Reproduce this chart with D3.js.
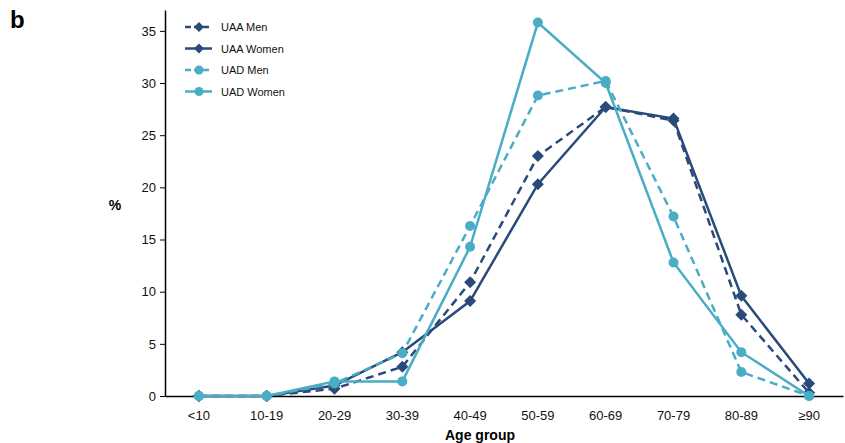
<!DOCTYPE html>
<html>
<head>
<meta charset="utf-8">
<script src="https://cdn.jsdelivr.net/npm/d3@7"></script>
<style>
body { margin: 0; background: #fff; }
text { font-family: "Liberation Sans", Arial, sans-serif; }
</style>
</head>
<body>
<svg id="mainSvg" width="845" height="443"></svg>
<script>
var ageGroups = ["<10", "10-19", "20-29", "30-39", "40-49", "50-59", "60-69", "70-79", "80-89", "\u226590"];
var uaaMen = [0, 0, 0.7, 2.8, 10.9, 23.0, 27.7, 26.4, 7.8, 0.3];
var uaaWomen = [0, 0, 1.0, 4.2, 9.1, 20.3, 27.7, 26.6, 9.6, 1.2];
var uadMen = [0, 0, 1.2, 4.1, 16.3, 28.8, 30.2, 17.2, 2.3, 0];
var uadWomen = [0, 0, 1.4, 1.4, 14.3, 35.8, 30.0, 12.8, 4.2, 0];
var yTicks = [0, 5, 10, 15, 20, 25, 30, 35];

var dark = "#2a4a7a", light = "#4aadc6";
var series = [
	{name: "UAA Men", values: uaaMen, col: dark, dash: "8,5", marker: "diamond"},
	{name: "UAA Women", values: uaaWomen, col: dark, dash: null, marker: "diamond"},
	{name: "UAD Men", values: uadMen, col: light, dash: "8,5", marker: "circle"},
	{name: "UAD Women", values: uadWomen, col: light, dash: null, marker: "circle"}
];

var mainSvg = d3.select("#mainSvg");
var x = d3.scaleBand().domain(ageGroups).range([165, 843]);
var y = d3.scaleLinear().domain([0, 37]).range([396, 10]);
function cx(i) { return x(ageGroups[i]) + x.bandwidth() / 2; }

// axes
var yAxis = mainSvg.append("g").attr("transform", "translate(165,0)")
	.call(d3.axisLeft(y).tickValues(yTicks).tickSize(5).tickSizeOuter(0));
yAxis.select(".domain").attr("stroke", "#000").attr("stroke-width", 1.5);
yAxis.selectAll("text").attr("font-size", "13px").attr("fill", "#111").attr("x", -9);

var xAxis = mainSvg.append("g").attr("transform", "translate(0,396)")
	.call(d3.axisBottom(x).tickSize(0).tickSizeOuter(0));
xAxis.select(".domain").attr("stroke", "#000").attr("stroke-width", 1.5);
xAxis.selectAll("text").attr("font-size", "13px").attr("fill", "#111").attr("y", 15);

// lines and markers
var line = d3.line().x(function(d, i) { return cx(i); }).y(function(d) { return y(d); });
// square diamond (rotated square), half diagonal r
function diamondPath(r) { return "M0," + (-r) + "L" + r + ",0L0," + r + "L" + (-r) + ",0Z"; }
series.forEach(function(s) {
	mainSvg.append("path").datum(s.values).attr("d", line)
		.attr("fill", "none").attr("stroke", s.col).attr("stroke-width", 2.5)
		.attr("stroke-dasharray", s.dash);
	var g = mainSvg.append("g");
	if(s.marker == "circle")
		g.selectAll("circle").data(s.values).enter().append("circle")
			.attr("cx", function(d, i) { return cx(i); }).attr("cy", function(d) { return y(d); })
			.attr("r", 5).attr("fill", s.col);
	else
		g.selectAll("path").data(s.values).enter().append("path")
			.attr("d", diamondPath(6))
			.attr("transform", function(d, i) { return "translate(" + cx(i) + "," + y(d) + ")"; })
			.attr("fill", s.col);
});

// legend
var legend = mainSvg.append("g").attr("transform", "translate(185,27)");
series.forEach(function(s, i) {
	var row = legend.append("g").attr("transform", "translate(0," + (i * 21.5) + ")");
	row.append("line").attr("x1", 0).attr("x2", 27).attr("y1", 0).attr("y2", 0)
		.attr("stroke", s.col).attr("stroke-width", 2.5).attr("stroke-dasharray", s.dash ? "6,3" : null);
	if(s.marker == "circle")
		row.append("circle").attr("cx", 14).attr("cy", 0).attr("r", 4.5).attr("fill", s.col);
	else
		row.append("path").attr("d", diamondPath(5)).attr("transform", "translate(14,0)").attr("fill", s.col);
	row.append("text").attr("x", 36).attr("y", 4).attr("font-size", "11px").attr("fill", "#111").text(s.name);
});

// titles
mainSvg.append("text").attr("x", 10).attr("y", 28).attr("font-size", "24px").attr("font-weight", "bold").text("b");
mainSvg.append("text").attr("x", 115).attr("y", 210).attr("text-anchor", "middle").attr("font-size", "14px").attr("font-weight", "bold").text("%");
mainSvg.append("text").attr("x", 480).attr("y", 440).attr("text-anchor", "middle").attr("font-size", "14px").attr("font-weight", "bold").text("Age group");
</script>
</body>
</html>
